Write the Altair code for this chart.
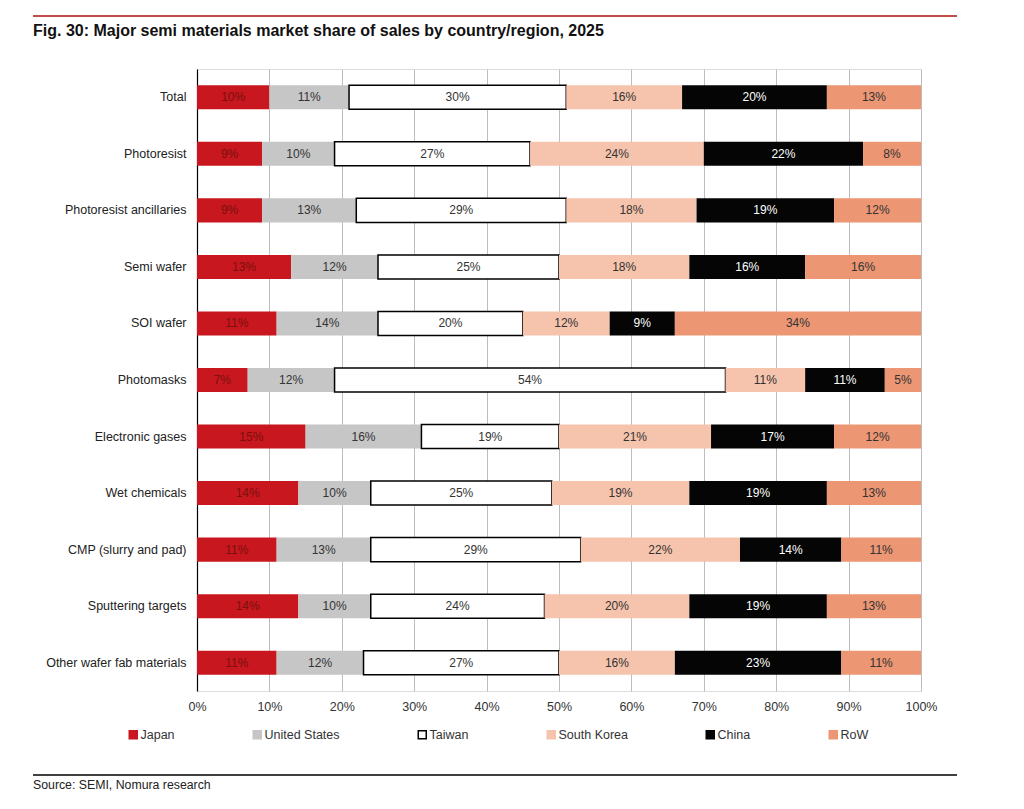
import altair as alt
import pandas as pd

# Market share (%) of sales by country/region for each material segment, 2025
categories = [
    "Total",
    "Photoresist",
    "Photoresist ancillaries",
    "Semi wafer",
    "SOI wafer",
    "Photomasks",
    "Electronic gases",
    "Wet chemicals",
    "CMP (slurry and pad)",
    "Sputtering targets",
    "Other wafer fab materials",
]
series = ["Japan", "United States", "Taiwan", "South Korea", "China", "RoW"]

japan = [10, 9, 9, 13, 11, 7, 15, 14, 11, 14, 11]
united_states = [11, 10, 13, 12, 14, 12, 16, 10, 13, 10, 12]
taiwan = [30, 27, 29, 25, 20, 54, 19, 25, 29, 24, 27]
south_korea = [16, 24, 18, 18, 12, 11, 21, 19, 22, 20, 16]
china = [20, 22, 19, 16, 9, 11, 17, 19, 14, 19, 23]
row = [13, 8, 12, 16, 34, 5, 12, 13, 11, 13, 11]

fills = ["#C8171E", "#C6C6C6", "#FFFFFF", "#F6C3AC", "#050505", "#EC9673"]
strokes = ["#C8171E", "#C6C6C6", "#000000", "#F6C3AC", "#050505", "#EC9673"]

values_by_series = [japan, united_states, taiwan, south_korea, china, row]
records = []
for i, cat in enumerate(categories):
    for j, (name, vals) in enumerate(zip(series, values_by_series)):
        records.append({"category": cat, "series": name, "order": j, "share": vals[i]})
df = pd.DataFrame(records)

FONT = "Liberation Sans"
W, H = 724, 622
LEFT, TOP = 197, 69

base = (
    alt.Chart(df)
    .transform_stack(
        stack="share",
        groupby=["category"],
        as_=["x0", "x1"],
        sort=[alt.SortField("order", order="ascending")],
    )
    .transform_calculate(
        mid="(datum.x0 + datum.x1) / 2",
        label="datum.share + '%'",
        tcol="datum.series === 'Japan' ? '#7A1010' : (datum.series === 'China' ? '#FFFFFF' : '#333333')",
    )
)

y_enc = alt.Y(
    "category:N",
    sort=categories,
    scale=alt.Scale(paddingInner=0.575, paddingOuter=0.2875),
    axis=alt.Axis(
        title=None,
        ticks=False,
        domain=True,
        domainColor="#000000",
        domainWidth=1.2,
        labelPadding=11,
        labelFontSize=12.5,
        labelColor="#222222",
        labelFont=FONT,
        grid=False,
    ),
)

x_enc = alt.X(
    "x0:Q",
    scale=alt.Scale(domain=[0, 100], nice=False),
    axis=alt.Axis(
        values=list(range(0, 101, 10)),
        labelExpr="datum.value + '%'",
        labelFlush=False,
        title=None,
        ticks=False,
        domain=False,
        grid=True,
        gridColor="#BDBDBD",
        gridWidth=1,
        labelPadding=9,
        labelFontSize=12.5,
        labelColor="#333333",
        labelFont=FONT,
    ),
)

legend = alt.Legend(
    title=None,
    orient="none",
    legendX=-70,
    legendY=659,
    direction="horizontal",
    columns=6,
    columnPadding=75,
    symbolType="square",
    symbolSize=64,
    symbolStrokeWidth=1.5,
    labelFontSize=12.5,
    labelColor="#333333",
    labelFont=FONT,
    labelOffset=1,
    padding=0,
)

bars = base.mark_bar().encode(
    x=x_enc,
    x2="x1:Q",
    y=y_enc,
    fill=alt.Fill("series:N", scale=alt.Scale(domain=series, range=fills), legend=legend),
    stroke=alt.Stroke("series:N", scale=alt.Scale(domain=series, range=strokes), legend=legend),
    strokeWidth=alt.condition("datum.series === 'Taiwan'", alt.value(1.5), alt.value(0)),
)

labels = base.mark_text(fontSize=12, font=FONT, baseline="middle", align="center").encode(
    x="mid:Q",
    y=alt.Y("category:N", sort=categories),
    text="label:N",
    color=alt.Color("tcol:N", scale=None),
)

one = pd.DataFrame({"k": [0]})

title = alt.Chart(one).mark_text(
    text="Fig. 30: Major semi materials market share of sales by country/region, 2025",
    fontSize=16,
    fontWeight="bold",
    font=FONT,
    align="left",
    baseline="middle",
    color="#111111",
).encode(x=alt.value(33 - LEFT), y=alt.value(31 - TOP))

top_rule = alt.Chart(one).mark_rule(color="#C0504D", strokeWidth=2).encode(
    x=alt.value(33 - LEFT), x2=alt.value(957 - LEFT), y=alt.value(16 - TOP)
)

source_rule = alt.Chart(one).mark_rule(color="#000000", strokeWidth=1.5).encode(
    x=alt.value(33 - LEFT), x2=alt.value(957 - LEFT), y=alt.value(775 - TOP)
)

source = alt.Chart(one).mark_text(
    text="Source: SEMI, Nomura research",
    fontSize=12.3,
    font=FONT,
    align="left",
    baseline="middle",
    color="#222222",
).encode(x=alt.value(33 - LEFT), y=alt.value(785 - TOP))

chart = (
    alt.layer(bars, labels, title, top_rule, source_rule, source)
    .properties(
        width=W,
        height=H,
        autosize=alt.AutoSizeParams(type="none"),
        padding={"left": LEFT, "top": TOP, "right": 1024 - LEFT - W, "bottom": 809 - TOP - H},
        background="#FFFFFF",
    )
    .configure_view(stroke=None)
    .configure(font=FONT)
)

chart.save("out.html", embed_options={"renderer": "svg", "actions": False})
